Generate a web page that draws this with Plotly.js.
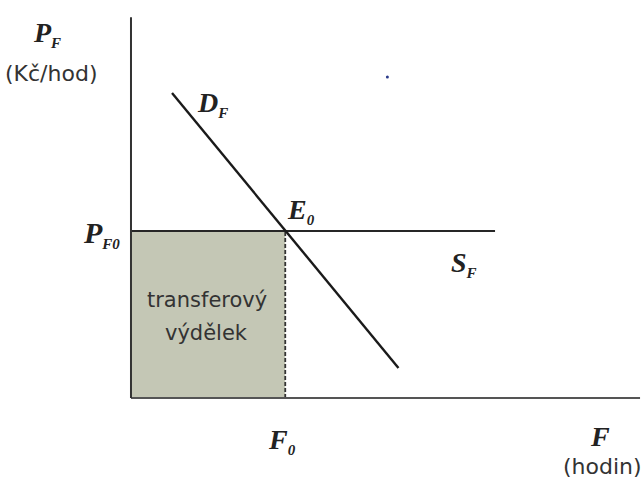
<!DOCTYPE html>
<html><head><meta charset="utf-8">
<script src="https://cdn.plot.ly/plotly-3.0.1.min.js"></script>
<style>html,body{margin:0;padding:0;background:#fff}</style>
</head><body><div id="chart" style="width:643px;height:487px"></div>
<script>
// Equilibrium values
const F0 = 5;          // equilibrium hours
const PF0 = 5;         // equilibrium price
// Demand curve D_F endpoints
const demandF = [1.33, 8.67];
const demandP = [9.13, 0.90];
// Supply S_F (perfectly elastic)
const supplyF = [0, 11.8];
const supplyP = [PF0, PF0];
// Axis extents
const xMax = 16.5, yMax = 11.4;
// stray dot in the scan
const dotF = [8.31], dotP = [9.61];

const serif = 'Liberation Serif, DejaVu Serif, serif';
const sans = 'DejaVu Sans, sans-serif';

const traces = [
  {x:[0, F0, F0, 0, 0], y:[0, 0, PF0, PF0, 0], fill:'toself', fillcolor:'#c4c7b5',
   mode:'none', type:'scatter', hoverinfo:'skip'},
  {x:[F0, F0], y:[0, PF0], mode:'lines', line:{color:'#333', width:1.8, dash:'4px,2px'}, type:'scatter'},
  {x:supplyF, y:supplyP, mode:'lines', line:{color:'#262626', width:2.2}, type:'scatter'},
  {x:demandF, y:demandP, mode:'lines', line:{color:'#1a1a1a', width:2.4}, type:'scatter'},
  {x:[0, xMax], y:[0, 0], mode:'lines', line:{color:'#555', width:2.2}, type:'scatter'},
  {x:[0, 0], y:[0, yMax], mode:'lines', line:{color:'#333', width:2}, type:'scatter'},
  {x:dotF, y:dotP, mode:'markers', marker:{color:'#2a3a8a', size:3}, type:'scatter'}
];

function lab(x, y, text, font){
  return {x:x, y:y, xref:'x', yref:'y', text:text, showarrow:false, font:font, xanchor:'center', yanchor:'middle'};
}
function sym(main, sub){
  return '<b><i>' + main + (sub ? '<sub><span style="font-size:15px">' + sub + '</span></sub>' : '') + '</i></b>';
}
const it = {family:serif, size:28, color:'#222'};
const tx = {family:sans, size:22, color:'#333'};
const annotations = [
  lab(-2.72, 10.9, sym('P','F'), it),
  lab(-2.6, 9.72, '(Kč/hod)', tx),
  lab(2.65, 8.8, sym('D','F'), it),
  lab(5.5, 5.6, sym('E','0'), it),
  lab(-0.95, 4.9, sym('P','F0'), {family:serif, size:30, color:'#222'}),
  lab(10.8, 4.0, sym('S','F'), it),
  lab(F0 - 0.12, -1.3, sym('F','0'), it),
  lab(15.2, -1.15, sym('F'), it),
  lab(15.27, -2.04, '(hodin)', tx),
  lab(2.45, 2.94, 'transferový', {family:sans, size:21, color:'#333'}),
  lab(2.45, 1.95, 'výdělek', {family:sans, size:21, color:'#333'})
];

const layout = {
  width:643, height:487,
  margin:{l:0, r:0, t:0, b:0},
  paper_bgcolor:'#fff', plot_bgcolor:'#fff',
  showlegend:false,
  xaxis:{range:[-4.246, 16.596], showgrid:false, zeroline:false, showticklabels:false, ticks:'', showline:false, fixedrange:true},
  yaxis:{range:[-2.665, 11.916], showgrid:false, zeroline:false, showticklabels:false, ticks:'', showline:false, fixedrange:true},
  annotations:annotations
};
Plotly.newPlot('chart', traces, layout, {displayModeBar:false, staticPlot:true});
</script></body></html>
